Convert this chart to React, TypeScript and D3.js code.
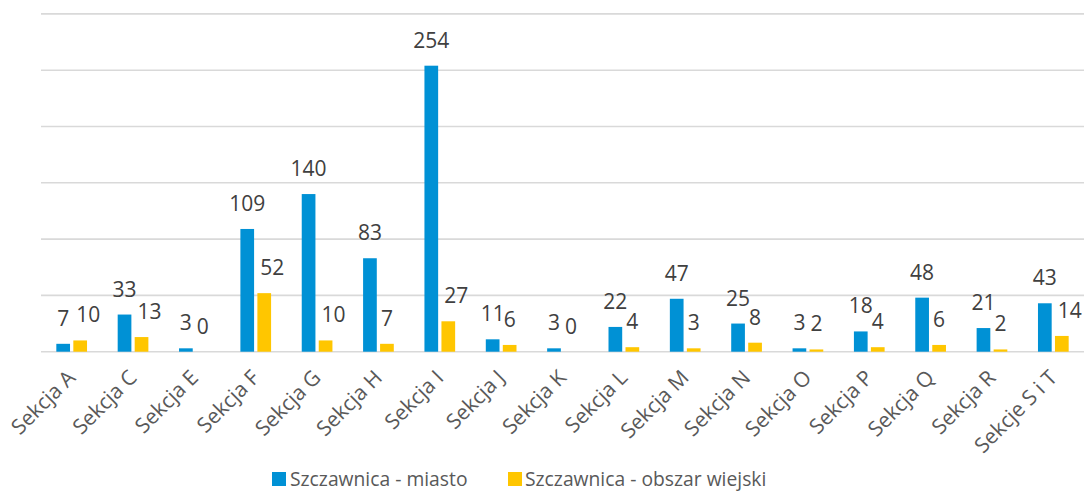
import React from "react";
import * as d3 from "d3";

const categories = [
  "Sekcja A", "Sekcja C", "Sekcja E", "Sekcja F", "Sekcja G", "Sekcja H", "Sekcja I",
  "Sekcja J", "Sekcja K", "Sekcja L", "Sekcja M", "Sekcja N", "Sekcja O", "Sekcja P",
  "Sekcja Q", "Sekcja R", "Sekcje S i T",
];
const miasto = [7, 33, 3, 109, 140, 83, 254, 11, 3, 22, 47, 25, 3, 18, 48, 21, 43];
const wiejski = [10, 13, 0, 52, 10, 7, 27, 6, 0, 4, 3, 8, 2, 4, 6, 2, 14];
const seriesNames = ["Szczawnica - miasto", "Szczawnica - obszar wiejski"];
const yTicks = [0, 50, 100, 150, 200, 250, 300];

const W = 1085;
const H = 495;
const colors = ["#0091D5", "#FFC600"];
const FONT = "'Open Sans', 'Noto Sans', sans-serif";

export default function App() {
  const x0 = d3.scaleBand<string>().domain(categories).range([41, 1084]).padding(0);
  const bw = x0.bandwidth();
  const x1 = d3
    .scaleBand<number>()
    .domain([0, 1])
    .range([bw / 2 - 15.35, bw / 2 + 15.35])
    .paddingInner(0.194)
    .paddingOuter(0);
  const y = d3.scaleLinear().domain([0, 300]).range([351.7, 13.9]);
  const data = [miasto, wiejski];

  return (
    <div style={{ position: "fixed", left: 0, top: 0 }}>
      <svg width={W} height={H} style={{ display: "block", background: "#fff" }}>
        <g>
          {yTicks.map((t) => (
            <line
              key={t}
              x1={41}
              x2={1084}
              y1={y(t)}
              y2={y(t)}
              stroke="#D9D9D9"
              strokeWidth={1.6}
            />
          ))}
        </g>
        {categories.map((c, i) => (
          <g key={c} transform={`translate(${x0(c)},0)`}>
            {data.map((s, k) => {
              const v = s[i];
              const bx = x1(k)!;
              const w = x1.bandwidth();
              const label = String(v);
              const dx = k === 1 && label.length > 1 ? 8 : 0;
              return (
                <g key={k}>
                  <rect
                    x={bx}
                    y={y(v)}
                    width={w}
                    height={Math.max(0, y(0) - y(v))}
                    fill={colors[k]}
                  />
                  <text
                    x={bx + w / 2 + dx}
                    y={y(v) - 18}
                    textAnchor="middle"
                    fontFamily={FONT}
                    fontSize={21}
                    fill="#404040"
                  >
                    {label}
                  </text>
                </g>
              );
            })}
            <text
              transform={`translate(${bw / 2 + 5},379) rotate(-45)`}
              textAnchor="end"
              fontFamily={FONT}
              fontSize={21}
              fill="#595959"
            >
              {c}
            </text>
          </g>
        ))}
        <g fontFamily={FONT} fontSize={19.3} fill="#595959">
          <rect x={272} y={472} width={14} height={14} fill={colors[0]} />
          <text x={290} y={486}>{seriesNames[0]}</text>
          <rect x={508} y={472} width={14} height={14} fill={colors[1]} />
          <text x={525} y={486}>{seriesNames[1]}</text>
        </g>
      </svg>
    </div>
  );
}
